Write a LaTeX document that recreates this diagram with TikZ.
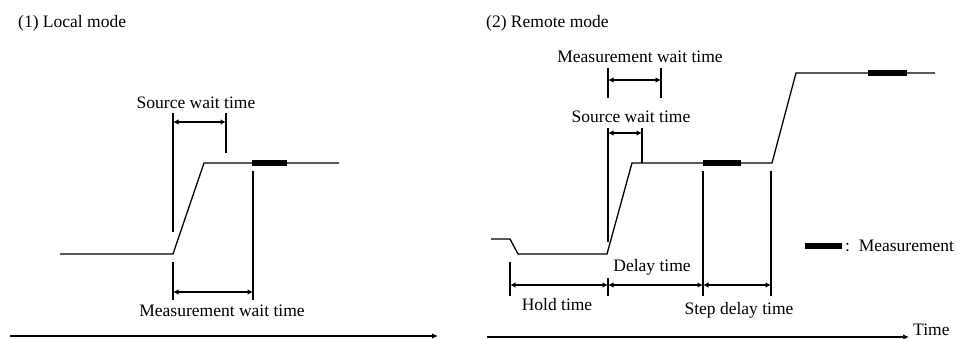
\documentclass[tikz,border=0pt]{standalone}
\usepackage{fontspec}
\setmainfont{Liberation Serif}
\usetikzlibrary{arrows.meta}
\begin{document}
\begin{tikzpicture}[x=1pt,y=-1pt,
  wave/.style={line width=1.3pt},
  vline/.style={line width=2.2pt},
  dim/.style={line width=2pt,{Latex[length=5.5pt,width=5.5pt]}-{Latex[length=5.5pt,width=5.5pt]}},
  meas/.style={line width=6pt},
  axis/.style={line width=2.5pt,-{Latex[length=6pt,width=5.5pt]}},
  lbl/.style={inner sep=0pt,font=\fontsize{17.5}{20}\selectfont}]
\useasboundingbox (0,0) rectangle (962,339);
% ---------- (1) Local mode ----------
\node[lbl,anchor=west] (t1) at (18,23) {(1) Local mode};
\coordinate (a1) at (60,254);
\coordinate (a2) at (173,254);
\coordinate (a3) at (204,163);
\coordinate (a4) at (339,163);
\draw[wave] (a1) -- (a2) -- (a3) -- (a4);
\coordinate (m1s) at (252,163); \coordinate (m1e) at (287,163);
\draw[meas] (m1s) -- (m1e);
% source wait
\coordinate (s1t) at (173,113); \coordinate (s1b) at (173,232);
\coordinate (s2t) at (226,113); \coordinate (s2b) at (226,153);
\draw[vline] (s1t) -- (s1b);
\draw[vline] (s2t) -- (s2b);
\coordinate (sa1) at (173,122); \coordinate (sa2) at (226,122);
\draw[dim] (sa1) -- (sa2);
\node[lbl] (lsw) at (196,103) {Source wait time};
% measurement wait
\coordinate (w1t) at (173,262); \coordinate (w1b) at (173,300);
\coordinate (w2t) at (253,171); \coordinate (w2b) at (253,300);
\draw[vline] (w1t) -- (w1b);
\draw[vline] (w2t) -- (w2b);
\coordinate (wa1) at (173,292); \coordinate (wa2) at (253,292);
\draw[dim] (wa1) -- (wa2);
\node[lbl] (lmw) at (222,311) {Measurement wait time};
% axis
\coordinate (ax1) at (10,336); \coordinate (ax2) at (438,336);
\draw[axis] (ax1) -- (ax2);
% ---------- (2) Remote mode ----------
\node[lbl,anchor=west] (t2) at (486,23) {(2) Remote mode};
\coordinate (b0) at (491,239);
\coordinate (b1) at (510,239);
\coordinate (b2) at (518,254);
\coordinate (b3) at (607,254);
\coordinate (b4) at (632,163);
\coordinate (b5) at (772,163);
\coordinate (b6) at (796,73);
\coordinate (b7) at (935,73);
\draw[wave] (b0) -- (b1) -- (b2) -- (b3) -- (b4) -- (b5) -- (b6) -- (b7);
\coordinate (m2s) at (703,163); \coordinate (m2e) at (741,163);
\draw[meas] (m2s) -- (m2e);
\coordinate (m3s) at (868,73); \coordinate (m3e) at (907,73);
\draw[meas] (m3s) -- (m3e);
% measurement wait (top)
\coordinate (r1t) at (608,68); \coordinate (r1b) at (608,98);
\coordinate (r2t) at (661,68); \coordinate (r2b) at (661,98);
\draw[vline] (r1t) -- (r1b);
\draw[vline] (r2t) -- (r2b);
\coordinate (ra1) at (608,80); \coordinate (ra2) at (661,80);
\draw[dim] (ra1) -- (ra2);
\node[lbl] (rmw) at (640,57) {Measurement wait time};
% source wait
\coordinate (q1t) at (608,128); \coordinate (q1b) at (608,242);
\coordinate (q2t) at (642,128); \coordinate (q2b) at (642,163);
\draw[vline] (q1t) -- (q1b);
\draw[vline] (q2t) -- (q2b);
\coordinate (qa1) at (608,133); \coordinate (qa2) at (642,133);
\draw[dim] (qa1) -- (qa2);
\node[lbl] (rsw) at (631,117) {Source wait time};
% bottom dimension lines
\coordinate (h1t) at (510,262); \coordinate (h1b) at (510,296);
\coordinate (h2t) at (608,278); \coordinate (h2b) at (608,296);
\coordinate (h3t) at (703,171); \coordinate (h3b) at (703,296);
\coordinate (h4t) at (771,171); \coordinate (h4b) at (771,296);
\draw[vline] (h1t) -- (h1b);
\draw[vline] (h2t) -- (h2b);
\draw[vline] (h3t) -- (h3b);
\draw[vline] (h4t) -- (h4b);
\coordinate (d1) at (510,285); \coordinate (d2) at (608,285);
\coordinate (d3) at (703,285); \coordinate (d4) at (771,285);
\draw[dim] (d1) -- (d2);
\draw[dim] (d2) -- (d3);
\draw[dim] (d3) -- (d4);
\node[lbl] (lht) at (557,305) {Hold time};
\node[lbl] (ldt) at (652,267) {Delay time};
\node[lbl] (lsd) at (739,310) {Step delay time};
% legend
\coordinate (lg1) at (805,246); \coordinate (lg2) at (842,246);
\draw[meas] (lg1) -- (lg2);
\node[lbl,anchor=west] (lgt) at (845,246) {:\ \ Measurement};
% time axis
\coordinate (tx1) at (487,337); \coordinate (tx2) at (909,337);
\draw[axis] (tx1) -- (tx2);
\node[lbl,anchor=west] (ltime) at (913,330) {Time};
\end{tikzpicture}
\end{document}
